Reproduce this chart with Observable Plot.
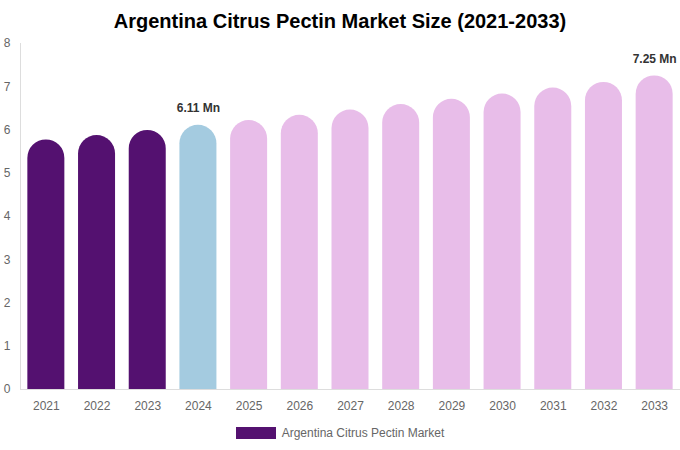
<!DOCTYPE html>
<html>
<head>
<meta charset="utf-8">
<script src="https://cdn.jsdelivr.net/npm/d3@7"></script>
<script src="https://cdn.jsdelivr.net/npm/@observablehq/plot@0.6"></script>
<style>
  body { margin: 0; background: #fff; font-family: "Liberation Sans", Arial, sans-serif; }
  #title { height: 34px; line-height: 42px; text-align: center; font-size: 20px; font-weight: bold; color: #000; }
  #legend { display: flex; justify-content: center; align-items: center; gap: 6px; font-size: 12px; color: #666; margin-top: 7px; }
  #legend .sw { width: 40px; height: 12px; background: #541170; display: inline-block; }
</style>
</head>
<body>
<div id="title">Argentina Citrus Pectin Market Size (2021-2033)</div>
<div id="chart"></div>
<div id="legend"><span class="sw"></span><span>Argentina Citrus Pectin Market</span></div>
<script>
const years = ["2021","2022","2023","2024","2025","2026","2027","2028","2029","2030","2031","2032","2033"];
const values = [5.77, 5.87, 5.99, 6.11, 6.22, 6.34, 6.46, 6.59, 6.71, 6.83, 6.97, 7.10, 7.25];
const colors = ["#541170","#541170","#541170","#a4cbe0","#e8bde9","#e8bde9","#e8bde9","#e8bde9","#e8bde9","#e8bde9","#e8bde9","#e8bde9","#e8bde9"];
const labeledYears = ["2024","2033"];
const yTicks = [0,1,2,3,4,5,6,7,8];

const data = years.map((y, i) => ({year: y, value: values[i], color: colors[i]}));
const labeled = data.filter(d => labeledYears.includes(d.year));

const chart = Plot.plot({
  width: 680,
  height: 385,
  marginTop: 9,
  marginBottom: 30,
  marginLeft: 20,
  marginRight: 0,
  style: {fontFamily: "'Liberation Sans', Arial, sans-serif", fontSize: "12px", color: "#666"},
  x: {domain: years, paddingInner: 0.27, paddingOuter: 0.145, round: false, label: null},
  y: {domain: [0, 8], label: null},
  marks: [
    Plot.frame({anchor: "left", stroke: "#ddd"}),
    Plot.barY(data, {x: "year", y: "value", fill: "color", ry1: 18.5}),
    Plot.ruleY([0], {stroke: "#ddd"}),
    Plot.axisX({tickSize: 0, tickPadding: 12, fill: "#666", fontSize: 12}),
    Plot.axisY({ticks: yTicks, tickSize: 0, tickPadding: 10, fill: "#666", fontSize: 12, tickFormat: d => d}),
    Plot.text(labeled, {x: "year", y: "value", text: d => d.value.toFixed(2) + " Mn", dy: -17, fontWeight: "bold", fontSize: 12, fill: "#333"})
  ]
});
document.getElementById("chart").appendChild(chart);
</script>
</body>
</html>
